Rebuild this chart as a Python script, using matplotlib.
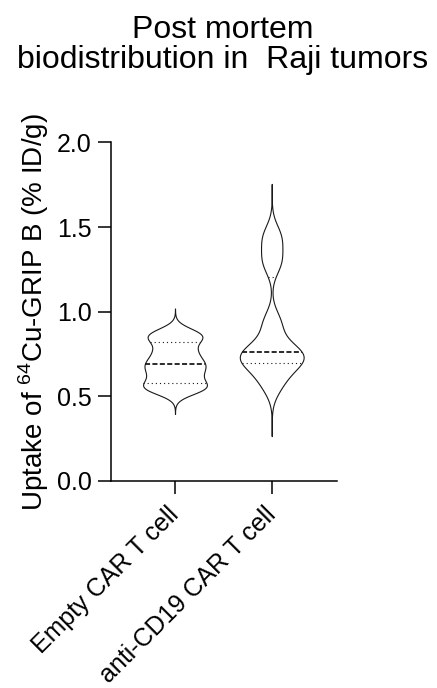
import numpy as np
import matplotlib.pyplot as plt

plt.rcParams['font.family'] = ['Liberation Sans', 'DejaVu Sans']
plt.rcParams['mathtext.fontset'] = 'custom'
plt.rcParams['mathtext.rm'] = 'Liberation Sans'

# datos (captacion, % ID/g)
grupos = ['Empty CAR T cell', 'anti-CD19 CAR T cell']
empty_car = [0.54, 0.5627, 0.62, 0.67, 0.71, 0.77, 0.8393, 0.875]
anti_cd19 = [0.58, 0.69, 0.722, 0.75, 0.776, 0.93, 1.298, 1.44]
yticks = [0.0, 0.5, 1.0, 1.5, 2.0]

# suavizado del violin (ancho de banda y extension en unidades de banda)
anchos_banda = [0.04, 0.075]
cortes = [3.6, 4.2]
medio_ancho = 0.33


def kde_gauss(datos, h, corte):
    """
    Densidad por nucleo gaussiano, normalizada a maximo 1
    """
    datos = np.asarray(datos)
    y = np.linspace(datos.min() - corte * h, datos.max() + corte * h, 500)
    d = (y[:, None] - datos[None, :]) / h
    dens = np.exp(-0.5 * d ** 2).sum(axis=1)
    return y, dens / dens.max()


fig = plt.figure(figsize=(4.37, 6.88), dpi=100)
ax = fig.add_axes([0.2533, 0.3009, 0.5172, 0.4921])

for i, datos in enumerate([empty_car, anti_cd19]):
    y, dens = kde_gauss(datos, anchos_banda[i], cortes[i])
    w = dens * medio_ancho
    ax.fill_betweenx(y, i - w, i + w, facecolor='white', edgecolor='#1a1a1a', linewidth=0.8)

    # cuartiles (mediana discontinua, Q1 y Q3 punteados)
    q1, med, q3 = np.percentile(datos, [25, 50, 75], method='weibull')
    for q, ls, lw in [(q1, (0, (1, 2.7)), 0.8), (med, (0, (2.8, 1.3)), 1.3), (q3, (0, (1, 2.7)), 0.8)]:
        wq = np.interp(q, y, w)
        ax.plot([i - wq, i + wq], [q, q], color='#1a1a1a', linestyle=ls, linewidth=lw)

ax.set_xlim(-0.665, 1.672)
ax.set_ylim(0, 2.0)
ax.set_yticks(yticks)
ax.set_yticklabels([f'{v:.1f}' for v in yticks])
ax.set_xticks([0, 1])
ax.set_xticklabels(grupos, rotation=45, ha='right', va='center', rotation_mode='anchor')

for lado in ['top', 'right']:
    ax.spines[lado].set_visible(False)
for lado in ['left', 'bottom']:
    ax.spines[lado].set_linewidth(1.1)
ax.tick_params(axis='both', length=9.4, width=1.1, labelsize=18)
ax.tick_params(axis='y', pad=4.3)
ax.tick_params(axis='x', pad=12.0)

ax.set_ylabel(r'Uptake of $^{\mathrm{64}}$Cu-GRIP B (% ID/g)', fontsize=20)
ax.yaxis.set_label_coords(-0.264, 0.5)

fig.text(0.509, 0.978, 'Post mortem\nbiodistribution in  Raji tumors',
         ha='center', va='top', fontsize=23, linespacing=1.0)

fig.savefig('out.png', dpi=100)
